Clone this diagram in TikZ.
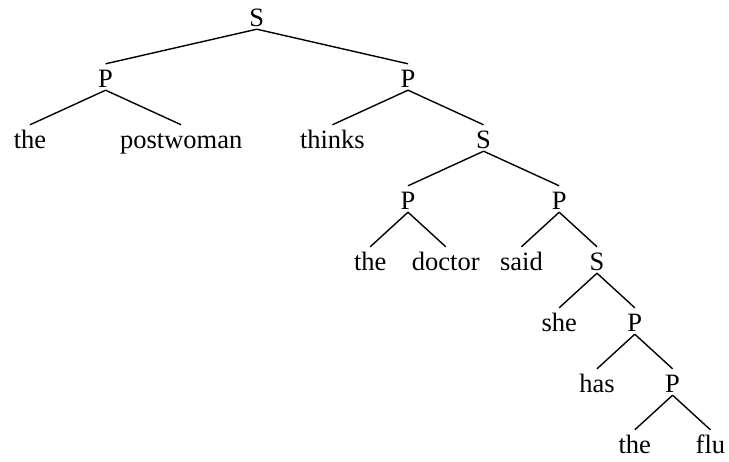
\documentclass[tikz,border=0pt]{standalone}
\usepackage{fontspec}
\setmainfont{Liberation Serif}
\usetikzlibrary{positioning}

\begin{document}
\begin{tikzpicture}[x=37.8pt, y=-61pt,
    lbl/.style={anchor=base, inner sep=0pt, text height=23pt, text depth=3pt, font=\fontsize{26.5}{30}\selectfont},
    branch/.style={line width=1.4pt}]
          \useasboundingbox (-30pt,26pt) rectangle (699pt,-435pt);
          \node[lbl] (s0) at (6,0) {S};
          \node[lbl] (p1) at (2,1) {P};
          \node[lbl] (p2) at (10,1) {P};
          \node[lbl] (the1) at (0,2) {the};
          \node[lbl] (postwoman) at (4,2) {postwoman};
          \node[lbl] (thinks) at (8,2) {thinks};
          \node[lbl] (s1) at (12,2) {S};
          \node[lbl] (p3) at (10,3) {P};
          \node[lbl] (p4) at (14,3) {P};
          \node[lbl] (the2) at (9,4) {the};
          \node[lbl] (doctor) at (11,4) {doctor};
          \node[lbl] (said) at (13,4) {said};
          \node[lbl] (s2) at (15,4) {S};
          \node[lbl] (she) at (14,5) {she};
          \node[lbl] (p5) at (16,5) {P};
          \node[lbl] (has) at (15,6) {has};
          \node[lbl] (p6) at (17,6) {P};
          \node[lbl] (the3) at (16,7) {the};
          \node[lbl] (flu) at (18,7) {flu};
          \foreach \a/\b in {s0/p1, s0/p2, p1/the1, p1/postwoman, p2/thinks, p2/s1,
                             s1/p3, s1/p4, p3/the2, p3/doctor, p4/said, p4/s2,
                             s2/she, s2/p5, p5/has, p5/p6, p6/the3, p6/flu}
            \draw[branch] (\a.south) -- (\b.north);
        \end{tikzpicture}
\end{document}
